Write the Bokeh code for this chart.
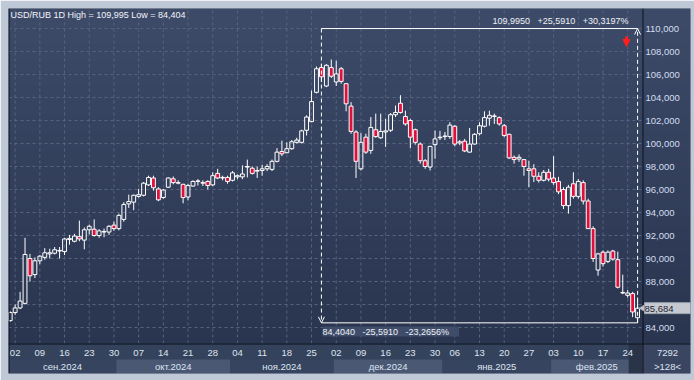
import numpy as np
import pandas as pd
from bokeh.plotting import figure
from bokeh.models import (Range1d, FixedTicker, CustomJSTickFormatter, Label,
                          Arrow, OpenHead, NormalHead, ColumnDataSource)
from bokeh.core.properties import value
from bokeh.embed import file_html
from bokeh.resources import INLINE

# ---------------- data ----------------
SYMBOL = "USD/RUB"
PERIOD = "1D"
HIGH_MARK = 109.995
LOW_MARK = 84.404
LAST_PRICE = 85.684
BAR_COUNTER = "7292"
VISIBLE_BARS = ">128<"
START_DATE = "2024-08-30"
END_DATE = "2025-02-26"
HOLIDAYS = ["2025-01-01"]
MONTH_NAMES = {8: "авг", 9: "сен", 10: "окт", 11: "ноя", 12: "дек", 1: "янв", 2: "фев"}
PRICE_TICKS = [84, 86, 88, 90, 92, 94, 96, 98, 100, 102, 104, 106, 108, 110]
MEASURE_FROM = 63  # bar index where the measurement starts

opens = [84.6, 85.3, 85.7, 86.1, 90.0, 88.6, 89.8, 90.1, 90.4, 90.46,
         90.65, 90.6, 91.65, 91.5, 91.9, 91.6, 92.5, 92.55, 92.0, 92.3,
         92.3, 92.9, 92.6, 93.4, 94.75, 94.9, 95.4, 95.5, 96.4, 97.0,
         96.05, 95.3, 96.2, 96.93, 96.6, 96.45, 95.35, 96.3, 96.7, 96.6,
         96.7, 96.4, 97.4, 97.0, 97.05, 96.8, 97.1, 97.1, 97.95, 97.85,
         97.6, 97.65, 97.8, 97.75, 98.45, 99.3, 99.2, 99.55, 100.1, 100.1,
         101.15, 101.9, 104.45, 106.6, 105.0, 106.6, 105.35, 106.5, 105.2, 103.25,
         101.0, 97.8, 100.55, 99.4, 101.2, 100.5, 101.0, 101.15, 102.5, 103.5,
         102.35, 102.0, 101.2, 99.95, 98.5, 97.95, 99.9, 100.5, 100.6, 100.6,
         101.5, 100.05, 100.2, 99.25, 99.95, 100.85, 101.5, 102.2, 102.35, 102.25,
         101.55, 100.8, 98.8, 98.65, 98.6, 97.8, 97.8, 97.15, 96.8, 97.5,
         97.0, 96.7, 96.0, 94.6, 96.5, 95.4, 96.6, 95.0, 92.6, 89.0,
         90.55, 89.75, 90.65, 89.9, 87.05, 86.8, 86.95, 84.85]
highs = [85.4, 86.0, 87.1, 91.8, 90.4, 90.1, 90.3, 90.9, 90.85, 91.0,
         91.0, 91.8, 92.05, 92.15, 93.3, 92.7, 92.95, 93.4, 92.55, 92.6,
         92.9, 93.2, 93.9, 94.9, 95.55, 95.55, 96.05, 96.65, 97.2, 97.2,
         96.2, 96.05, 97.05, 97.13, 96.8, 96.5, 96.5, 96.8, 96.9, 96.8,
         96.8, 97.5, 97.8, 97.2, 97.2, 97.6, 97.3, 98.1, 98.6, 98.0,
         98.0, 98.15, 98.2, 98.6, 99.6, 100.25, 100.1, 100.3, 100.5, 101.2,
         102.45, 104.6, 106.7, 106.9, 106.9, 107.3, 107.2, 106.65, 105.25, 103.6,
         101.15, 100.9, 100.85, 102.3, 102.6, 102.6, 102.15, 102.65, 103.3, 104.2,
         102.85, 102.15, 101.3, 100.1, 98.65, 99.8, 101.13, 101.1, 101.0, 101.85,
         101.6, 100.3, 100.4, 101.35, 100.9, 101.85, 102.8, 102.85, 102.6, 102.35,
         101.7, 100.85, 98.95, 99.05, 98.65, 98.5, 98.2, 97.5, 97.7, 97.8,
         98.9, 97.1, 96.2, 96.4, 97.5, 96.9, 96.8, 95.2, 92.8, 90.5,
         90.7, 90.7, 90.75, 90.6, 88.6, 87.25, 87.1, 86.6]
lows = [84.5, 85.1, 85.6, 86.0, 88.0, 88.3, 89.5, 89.9, 90.0, 90.35,
        90.0, 90.3, 91.2, 91.4, 91.5, 90.8, 92.1, 91.9, 91.8, 91.85,
        92.05, 92.4, 92.45, 93.2, 94.4, 94.2, 95.3, 95.4, 96.3, 95.9,
        94.98, 95.2, 96.15, 96.45, 96.45, 94.8, 95.05, 96.25, 96.35, 96.3,
        96.0, 96.3, 96.9, 96.8, 96.5, 96.7, 96.9, 96.9, 97.05, 97.3,
        97.0, 97.2, 97.6, 97.6, 98.35, 98.9, 99.15, 99.45, 100.0, 100.0,
        100.7, 101.85, 104.35, 105.35, 104.9, 105.7, 105.0, 105.2, 102.8, 100.85,
        97.0, 97.65, 99.1, 99.1, 100.5, 100.4, 99.7, 101.0, 102.3, 102.6,
        101.55, 99.6, 99.9, 98.25, 97.8, 97.65, 98.67, 100.3, 100.3, 100.4,
        99.75, 99.85, 99.25, 99.2, 99.9, 100.7, 101.4, 101.55, 101.7, 101.55,
        100.55, 98.65, 98.25, 98.4, 97.2, 96.2, 96.65, 96.6, 96.7, 96.7,
        96.4, 95.6, 94.3, 93.9, 95.2, 95.2, 94.7, 92.6, 89.7, 88.5,
        89.3, 89.6, 89.8, 87.4, 86.9, 86.6, 84.9, 84.404]
closes = [85.3, 85.7, 86.3, 90.35, 88.5, 89.8, 90.2, 90.5, 90.5, 90.76,
          90.7, 91.7, 91.75, 91.95, 91.7, 92.5, 92.8, 92.0, 92.4, 92.35,
          92.8, 92.6, 93.75, 94.7, 94.95, 95.5, 95.55, 96.55, 97.05, 96.15,
          95.1, 95.95, 97.0, 96.6, 96.55, 95.3, 96.35, 96.7, 96.75, 96.55,
          96.35, 97.2, 97.0, 97.05, 96.7, 97.45, 97.2, 97.35, 98.0, 97.4,
          97.65, 97.8, 98.0, 98.45, 99.25, 99.1, 99.55, 100.15, 100.3, 101.1,
          102.3, 103.65, 106.5, 105.8, 106.8, 105.85, 106.05, 105.4, 103.45, 101.05,
          98.45, 100.1, 99.25, 101.4, 100.6, 101.05, 101.1, 102.5, 102.7, 102.7,
          101.7, 100.55, 100.1, 98.5, 98.0, 99.75, 100.4, 100.55, 100.65, 101.6,
          99.95, 100.15, 99.35, 99.95, 100.8, 101.55, 102.25, 102.45, 102.4, 101.7,
          100.7, 98.75, 98.6, 98.8, 98.0, 97.65, 97.15, 96.8, 97.5, 96.9,
          96.6, 95.8, 94.6, 96.2, 95.4, 96.7, 95.0, 92.6, 90.0, 90.4,
          89.55, 90.55, 89.95, 87.5, 87.0, 87.0, 85.35, 85.684]

# ---------------- layout helpers (figure pixels -> data) ----------------
W, H = 694, 380
PX_LEFT, PX_CHART_R, PX_RIGHT, PX_TOP, PX_SCALE, PX_ROW, PX_BOTTOM = 8, 642, 690, 8, 343, 359, 373
PX_BAR0, PX_STEP = 9.7, 4.94        # x of first bar, bar spacing
PX_Y_REF, PRICE_REF, PX_PER_UNIT = 28.0, 110.0, 11.5
NB = "\u00a0"


def fx(px):
    return (px - PX_BAR0) / PX_STEP


def fy(py):
    return PRICE_REF - (py - PX_Y_REF) / PX_PER_UNIT


def dec(v, n):
    return f"{v:.{n}f}".replace(".", ",")


dates = [d for d in pd.bdate_range(START_DATE, END_DATE) if str(d.date()) not in HOLIDAYS]
n = len(opens)
idx = np.arange(n)
o, h, l, c = map(np.array, (opens, highs, lows, closes))
top = np.maximum(o, c)
bot = np.minimum(o, c)
up = c >= o

p = figure(width=W, height=H, output_backend="svg", toolbar_location=None,
           x_range=Range1d(fx(PX_LEFT), fx(PX_RIGHT)), y_range=Range1d(fy(PX_BOTTOM), fy(PX_TOP)),
           x_axis_location=None, y_axis_location="right",
           min_border_left=PX_LEFT, min_border_right=W - PX_RIGHT,
           min_border_top=PX_TOP, min_border_bottom=H - PX_BOTTOM,
           border_fill_color="#bec8d6", background_fill_color="#34415d")
p.outline_line_color = None
p.grid.visible = False

FONT = "Liberation Sans"
TXT = "#dde4f0"
DARK_LINE = "#0c111c"

x_lo, x_ch, x_hi = fx(PX_LEFT), fx(PX_CHART_R), fx(PX_RIGHT)
y_sep, y_row, y_bot, y_top = fy(PX_SCALE), fy(PX_ROW), fy(PX_BOTTOM), fy(PX_TOP)

# background gradient of chart + price panel
rows = 120
top_rgb = np.array([61, 75, 105])
bot_rgb = np.array([42, 53, 79])
img = np.zeros((rows, 1), dtype=np.uint32)
view = img.view(dtype=np.uint8).reshape((rows, 1, 4))
for r in range(rows):
    t = r / (rows - 1)
    col = bot_rgb + (top_rgb - bot_rgb) * t
    view[r, 0, :3] = col.astype(np.uint8)
    view[r, 0, 3] = 255
p.image_rgba(image=[img], x=x_lo, y=y_sep, dw=x_hi - x_lo, dh=y_top - y_sep)

# week ticks (Mondays)
week_idx = [i for i, d in enumerate(dates) if d.weekday() == 0]
week_lbl = [f"{dates[i].day:02d}" for i in week_idx]

# grid
GRID = "#56647f"
p.segment(x0=week_idx, x1=week_idx, y0=[y_sep] * len(week_idx), y1=[y_top] * len(week_idx),
          line_color=GRID, line_dash="3 3", line_width=1)
p.segment(x0=[x_lo] * len(PRICE_TICKS), x1=[x_ch] * len(PRICE_TICKS), y0=PRICE_TICKS, y1=PRICE_TICKS,
          line_color=GRID, line_dash="3 3", line_width=1)

# candles
src = ColumnDataSource(dict(x=idx, top=top, bot=bot, h=h, l=l,
                            fill=["#00000000" if u else "#e0103c" for u in up]))
p.segment(x0="x", x1="x", y0="top", y1="h", source=src, line_color="white", line_width=1)
p.segment(x0="x", x1="x", y0="l", y1="bot", source=src, line_color="white", line_width=1)
p.vbar(x="x", width=0.78, top="top", bottom="bot", source=src,
       fill_color="fill", line_color="white", line_width=1)

# measurement
m0, m1 = MEASURE_FROM, n - 1
p.segment(x0=[m0, m0], x1=[m1, m1], y0=[HIGH_MARK, LOW_MARK], y1=[HIGH_MARK, LOW_MARK],
          line_color="white", line_width=1)
p.add_layout(Arrow(x_start=m0, y_start=HIGH_MARK, x_end=m0, y_end=LOW_MARK,
                   line_color="white", line_width=1, line_dash="4 3",
                   end=OpenHead(size=6, line_color="white", line_width=1)))
p.add_layout(Arrow(x_start=m1, y_start=LOW_MARK, x_end=m1, y_end=HIGH_MARK,
                   line_color="white", line_width=1, line_dash="4 3",
                   end=OpenHead(size=6, line_color="white", line_width=1)))
diff = HIGH_MARK - LOW_MARK
GAP = NB * 3
top_txt = f"{dec(HIGH_MARK, 4)}{GAP}+{dec(diff, 4)}{GAP}+{dec(diff / LOW_MARK * 100, 4)}%"
bot_txt = f"{dec(LOW_MARK, 4)}{GAP}-{dec(diff, 4)}{GAP}-{dec(diff / HIGH_MARK * 100, 4)}%" + NB * 4
p.add_layout(Label(x=fx(628), y=fy(20), text=top_txt, text_align="right", text_baseline="middle",
                   text_font=FONT, text_font_size="9px", text_color="#eef1f6"))
p.add_layout(Label(x=fx(322), y=fy(331), text=bot_txt, text_align="left", text_baseline="middle",
                   text_font=FONT, text_font_size="9px", text_color="#eef1f6",
                   background_fill_color="#404d6a"))
p.add_layout(Arrow(x_start=fx(626), y_start=fy(36), x_end=fx(626), y_end=fy(46),
                   line_color="#ff1e1e", line_width=3,
                   end=NormalHead(size=7, fill_color="#ff1e1e", line_color="#ff1e1e")))

# title
p.add_layout(Label(x=fx(10), y=fy(14), text=f"{SYMBOL} {PERIOD} High = {dec(HIGH_MARK, 3)} Low = {dec(LOW_MARK, 3)}",
                   text_baseline="middle", text_font=FONT, text_font_size="9px", text_color="#f2f4f8"))

# ---- bottom time scale ----
p.quad(left=[x_lo], right=[x_ch], top=[y_sep], bottom=[y_row], fill_color="#35425c", line_color=None)
month_start = [i for i in range(1, n) if dates[i].month != dates[i - 1].month]
edges = [x_lo] + [i - 0.5 for i in month_start[1:]] + [x_ch]
band_cols = ["#37445f", "#4a5874"]
for k in range(len(edges) - 1):
    p.quad(left=[edges[k]], right=[edges[k + 1]], top=[y_row], bottom=[y_bot],
           fill_color=band_cols[k % 2], line_color=None)
p.quad(left=[week_idx[-1] + 0.2], right=[x_ch], top=[y_sep], bottom=[y_bot],
       fill_color="#2a3449", line_color=None)
# counter box of the price panel
p.quad(left=[x_ch], right=[x_hi], top=[y_sep], bottom=[y_bot], fill_color="#3a4661", line_color=None)
m_lbl = [f"{MONTH_NAMES[dates[i].month]}.{dates[i].year}" for i in month_start]
m_x = [(edges[k] + edges[k + 1]) / 2 for k in range(len(edges) - 1)]
p.text(x=week_idx, y=[fy(352)] * len(week_idx), text=week_lbl, text_align="center",
       text_baseline="middle", text_font=value(FONT), text_font_size="9.5px", text_color=TXT)
p.text(x=m_x, y=[fy(366)] * len(m_x), text=m_lbl, text_align="center",
       text_baseline="middle", text_font=value(FONT), text_font_size="9.5px", text_color=TXT)

# panel dividers
p.segment(x0=[x_lo], x1=[x_hi], y0=[fy(PX_SCALE + 0.5)], y1=[fy(PX_SCALE + 0.5)],
          line_color=DARK_LINE, line_width=1)
p.segment(x0=[fx(PX_CHART_R + 0.5)], x1=[fx(PX_CHART_R + 0.5)], y0=[y_bot], y1=[y_top],
          line_color=DARK_LINE, line_width=1)
p.segment(x0=[fx(PX_LEFT + 0.5)], x1=[fx(PX_LEFT + 0.5)], y0=[y_bot], y1=[y_top],
          line_color=DARK_LINE, line_width=1)

# right price axis: labels drawn inward, into the price panel
ax = p.yaxis[0]
ax.ticker = FixedTicker(ticks=PRICE_TICKS)
ax.formatter = CustomJSTickFormatter(
    code=f"return Math.abs(tick - {LAST_PRICE}) < 1 ? '' : tick.toFixed(3).replace('.', ',');")
ax.major_tick_line_color = None
ax.minor_tick_line_color = None
ax.major_tick_out = 0
ax.major_tick_in = 0
ax.minor_tick_out = 0
ax.minor_tick_in = 0
ax.axis_line_color = None
ax.major_label_standoff = -(PX_RIGHT - 645)
ax.major_label_text_font = FONT
ax.major_label_text_font_size = "9.5px"
ax.major_label_text_color = "#d4ddf0"
ax.major_label_text_align = "left"

# last price tag and counters in the right panel
p.add_layout(Label(x=fx(644), y=LAST_PRICE, text=dec(LAST_PRICE, 3) + NB * 7,
                   text_baseline="middle", text_font=FONT, text_font_size="9.5px", text_color="#1d2433",
                   background_fill_color="#c6cad0", border_line_color="#9aa2ad"))
p.scatter(x=[fx(642)], y=[LAST_PRICE], marker="triangle", angle=np.pi / 2, size=6,
          fill_color="#c6cad0", line_color="#9aa2ad")
p.add_layout(Label(x=fx(667), y=fy(352), text=BAR_COUNTER, text_align="center",
                   text_baseline="middle", text_font=FONT, text_font_size="9.5px", text_color=TXT))
p.add_layout(Label(x=fx(667), y=fy(366), text=VISIBLE_BARS, text_align="center",
                   text_baseline="middle", text_font=FONT, text_font_size="9.5px", text_color=TXT))

open("out.html", "w").write(file_html(p, INLINE))
